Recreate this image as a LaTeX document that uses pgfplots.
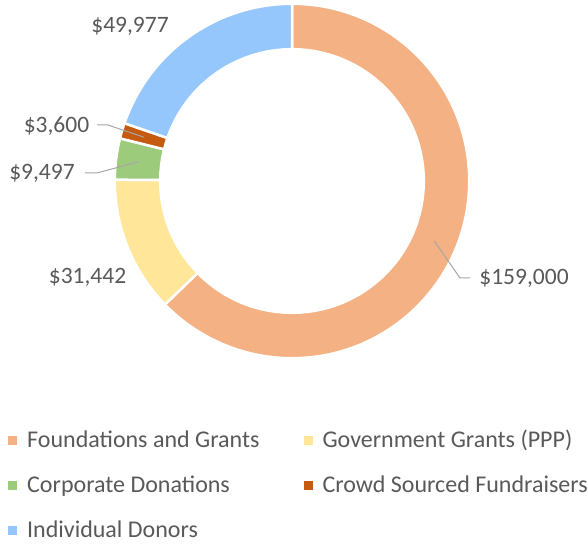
\documentclass[border=0pt]{standalone}
\usepackage{pgfplots}
\pgfplotsset{compat=1.18}
\usepackage{pgfplotstable}
\usepackage{fontspec}
\setmainfont{Carlito}

\definecolor{cfound}{HTML}{F4B183}
\definecolor{cgov}{HTML}{FFE699}
\definecolor{ccorp}{HTML}{9DCB7C}
\definecolor{ccrowd}{HTML}{C55A11}
\definecolor{cindiv}{HTML}{95C7FC}
\definecolor{tgray}{HTML}{595959}
\definecolor{lgray}{HTML}{A6A6A6}

% lx,ly: label base point; lead=1 draws a leader from (hx,hy) via (bx,hy)
\pgfplotstableread[col sep=comma]{
name,value,colour,lx,ly,lead,hx,bx,hy
Foundations and Grants,159000,cfound,524,259,1,470,460,266
Government Grants (PPP),31442,cgov,87.5,260,0,0,0,0
Corporate Donations,9497,ccorp,42,364,1,85,97,371
Crowd Sourced Fundraisers,3600,ccrowd,56.5,411,1,97,108,419
Individual Donors,49977,cindiv,130,511,0,0,0,0
}\donut

\newcommand\labfont{\fontsize{23.5bp}{28bp}\selectfont}
\newcommand\legfont{\fontsize{24bp}{28bp}\selectfont}

\begin{document}
\begin{tikzpicture}
\begin{axis}[
    x=1bp, y=1bp,
    xmin=0, xmax=588, ymin=0, ymax=544,
    hide axis,
    clip=false,
    legend columns=2,
    legend cell align=left,
    legend image code/.code={\fill[#1, draw=none] (0bp,-4.5bp) rectangle (9bp,4.5bp);},
    legend style={
        at={(axis cs:8,58)}, anchor=west,
        draw=none, fill=none, inner sep=0pt,
        font=\legfont, text=tgray,
        nodes={inner sep=0pt, text height=17bp, text depth=4bp},
        row sep=24bp,
        /tikz/every odd column/.append style={column sep=10bp},
        /tikz/every even column/.append style={column sep=44bp},
    },
]
\path (axis cs:0,0) rectangle (axis cs:588,544);
\pgfplotstablegetrowsof{\donut}
\pgfmathtruncatemacro\lastrow{\pgfplotsretval-1}
\def\total{0}
\pgfplotsforeachungrouped \i in {0,...,\lastrow}{%
    \pgfplotstablegetelem{\i}{value}\of\donut
    \edef\total{\fpeval{\total+\pgfplotsretval}}%
}
\def\cum{0}
\pgfplotsforeachungrouped \i in {0,...,\lastrow}{%
    \pgfplotstablegetelem{\i}{value}\of\donut \let\v\pgfplotsretval
    \pgfplotstablegetelem{\i}{colour}\of\donut \let\c\pgfplotsretval
    \pgfplotstablegetelem{\i}{name}\of\donut \let\nm\pgfplotsretval
    \pgfplotstablegetelem{\i}{lx}\of\donut \let\lx\pgfplotsretval
    \pgfplotstablegetelem{\i}{ly}\of\donut \let\ly\pgfplotsretval
    \pgfplotstablegetelem{\i}{lead}\of\donut \let\lead\pgfplotsretval
    \pgfplotstablegetelem{\i}{hx}\of\donut \let\hx\pgfplotsretval
    \pgfplotstablegetelem{\i}{bx}\of\donut \let\bx\pgfplotsretval
    \pgfplotstablegetelem{\i}{hy}\of\donut \let\hy\pgfplotsretval
    \edef\aone{\fpeval{90-\cum*360/\total}}%
    \edef\cum{\fpeval{\cum+\v}}%
    \edef\atwo{\fpeval{90-\cum*360/\total}}%
    \edef\amid{\fpeval{(\aone+\atwo)/2}}%
    \edef\tmp{%
        \noexpand\fill[\c, draw=white, line width=2.5bp, shift={(axis cs:292,363)}]
            (\aone:177.2bp) arc[start angle=\aone, end angle=\atwo, radius=177.2bp]
            -- (\atwo:131.8bp) arc[start angle=\atwo, end angle=\aone, radius=131.8bp]
            -- cycle;
        \noexpand\node[anchor=base, text=tgray, font=\noexpand\labfont, inner sep=0pt]
            at (axis cs:\lx,\ly) {\noexpand\$\noexpand\pgfmathprintnumber[fixed, precision=0, 1000 sep={,}, assume math mode=true]{\v}};
    }\tmp
    \ifnum\lead=1
        \edef\tmp{%
            \noexpand\draw[lgray, line width=1bp]
                (axis cs:\hx,\hy) -- (axis cs:\bx,\hy)
                -- ([shift={(axis cs:292,363)}]\amid:154.5bp);
        }\tmp
    \fi
    \edef\tmp{\noexpand\addlegendimage{fill=\c}\noexpand\addlegendentry{\nm}}\tmp
}
\end{axis}
\end{tikzpicture}
\end{document}
